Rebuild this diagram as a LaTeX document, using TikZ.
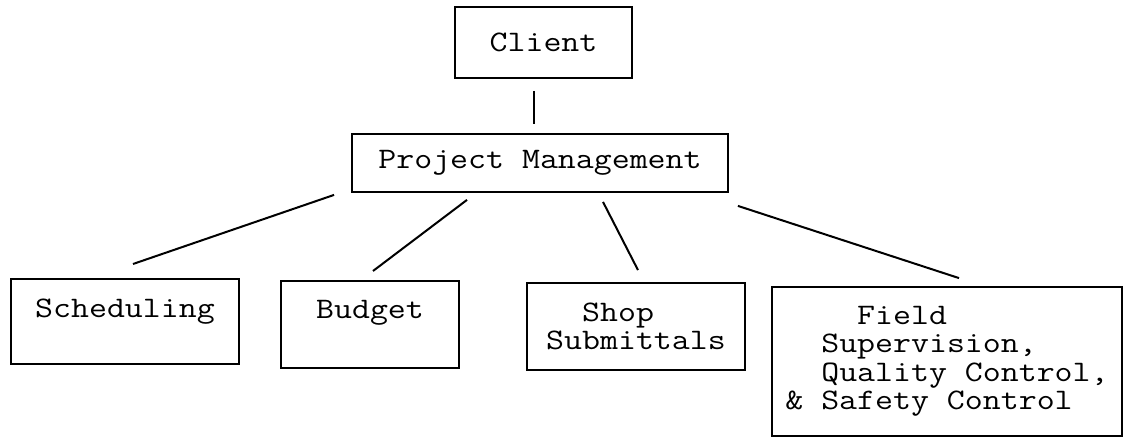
\documentclass[tikz,border=0pt]{standalone}
\usepackage{fontspec}
\newfontfamily\typewriter{Latin Modern Mono}[FakeStretch=1.17]
\usetikzlibrary{calc}
\begin{document}
\begin{tikzpicture}[x=0.5pt,y=-0.5pt,
  box/.style={draw, line width=0.9pt, inner xsep=0pt, inner ysep=0pt,
    font=\typewriter\fontsize{14.9pt}{14.25pt}\selectfont},
  link/.style={line width=1pt}]
\useasboundingbox (0,0) rectangle (1125,437);
\node[box, minimum width=88.5pt, minimum height=35.5pt] (client) at (543.5,42.5) {Client};
\node[box, minimum width=188pt, minimum height=29pt] (pm) at (540,163) {Project Management};
\node[box, anchor=north, minimum width=114pt, text height=19.5pt, text depth=23pt] (sched) at (125,278) {Scheduling};
\node[box, anchor=north, minimum width=89pt, text height=19pt, text depth=24.5pt] (budget) at (370,280) {Budget};
\node[box, align=left, minimum width=109pt, minimum height=43.5pt] (shop) at (636,326.5)
  {\hphantom{00}Shop\\Submittals};
\node[box, align=left, minimum width=175pt, minimum height=74.5pt] (field) at (947,361.5)
  {\hphantom{0000}Field\\\hphantom{00}Supervision,\\\hphantom{00}Quality Control,\\\& Safety Control};
\draw[link] ($(client.south)+(-9.5,12)$) -- ($(pm.north)+(-6,-9)$);
\draw[link] ($(pm.south west)+(-17,2)$) -- ($(sched.north)+(8,-14)$);
\draw[link] ($(pm.south)+(-73,7)$) -- ($(budget.north)+(3,-9)$);
\draw[link] ($(pm.south)+(63,9)$) -- ($(shop.north)+(2,-12)$);
\draw[link] ($(pm.south east)+(9,13)$) -- ($(field.north)+(12,-8)$);
\end{tikzpicture}
\end{document}
